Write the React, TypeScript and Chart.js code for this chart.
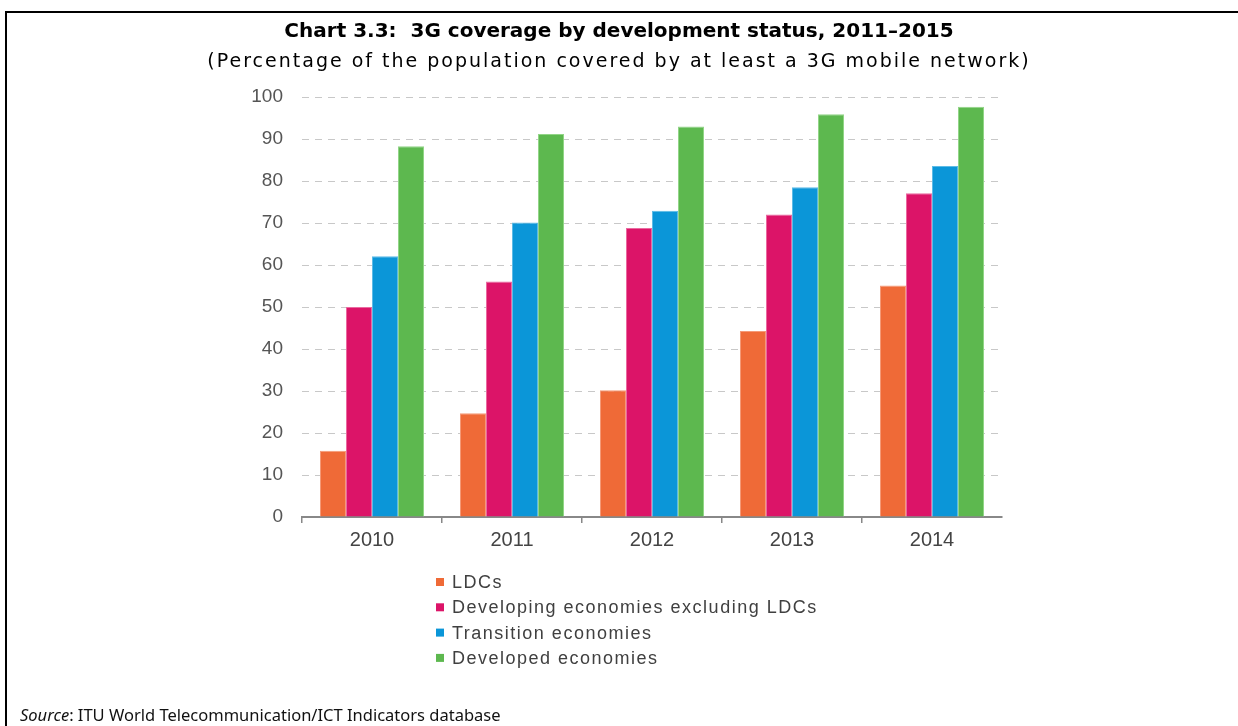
import React, { useEffect, useRef } from "react";
import { Chart, registerables } from "chart.js";

Chart.register(...registerables);

const years = ["2010", "2011", "2012", "2013", "2014"];
const ldcs = [15.8, 24.7, 30.2, 44.3, 55.1];
const developingExLdcs = [50.0, 56.1, 68.8, 72.0, 77.1];
const transitionEconomies = [62.1, 70.1, 72.9, 78.5, 83.6];
const developedEconomies = [88.3, 91.2, 93.0, 95.9, 97.7];
const seriesLabels = [
  "LDCs",
  "Developing economies excluding LDCs",
  "Transition economies",
  "Developed economies",
];
const seriesColors = ["#EF6A37", "#DC1468", "#0B96D8", "#5DB84F"];
const seriesEdges = ["#f59a78", "#ea6aa0", "#5cbbe6", "#92d587"];
const yMin = 0;
const yMax = 100;
const yStep = 10;

const titleText = "Chart 3.3:\u00a0 3G coverage by development status, 2011\u20132015";
const subtitleText = "(Percentage of the population covered by at least a 3G mobile network)";

const listLegend = {
  id: "listLegend",
  afterDraw(chart: any) {
    const ctx = chart.ctx as CanvasRenderingContext2D;
    ctx.save();
    chart.data.datasets.forEach((ds: any, i: number) => {
      const y = 582 + i * 25.3;
      ctx.fillStyle = ds.backgroundColor;
      ctx.fillRect(436, y - 4, 8, 8);
      ctx.font = '18px "Liberation Sans", Arial, sans-serif';
      (ctx as any).letterSpacing = "1.5px";
      ctx.fillStyle = "#404040";
      ctx.textBaseline = "middle";
      ctx.textAlign = "left";
      ctx.fillText(ds.label, 452, y + 1);
    });
    ctx.restore();
  },
};

export default function App() {
  const canvasRef = useRef<HTMLCanvasElement | null>(null);

  useEffect(() => {
    if (!canvasRef.current) return;
    const values = [ldcs, developingExLdcs, transitionEconomies, developedEconomies];
    const chart = new Chart(canvasRef.current, {
      type: "bar",
      data: {
        labels: years,
        datasets: values.map((v, i) => ({
          label: seriesLabels[i],
          data: v,
          backgroundColor: seriesColors[i],
          borderColor: seriesEdges[i],
          borderWidth: 1,
          categoryPercentage: 0.743,
          barPercentage: 1.0,
        })),
      },
      options: {
        animation: false,
        responsive: false,
        maintainAspectRatio: false,
        layout: { padding: { top: 97, left: 0, right: 236, bottom: 169 } },
        plugins: {
          legend: { display: false },
          title: { display: false },
          tooltip: { enabled: false },
        },
        scales: {
          x: {
            afterFit: (s: any) => {
              s.height = 40;
            },
            grid: {
              display: true,
              drawOnChartArea: false,
              drawTicks: true,
              tickLength: 6,
              lineWidth: 1.5,
              color: (c: any) => (c.type === "tick" ? "#888888" : "rgba(0,0,0,0)"),
            },
            border: { display: true, color: "#888888", width: 2 },
            ticks: {
              color: "#444444",
              padding: 5,
              font: { family: '"Liberation Sans", Arial, sans-serif', size: 20 },
            },
          },
          y: {
            min: yMin,
            max: yMax,
            afterFit: (s: any) => {
              s.width = 302;
            },
            grid: {
              color: "#c8c8c8",
              lineWidth: 1,
              drawTicks: false,
            },
            border: { display: false, dash: [7, 6] },
            ticks: {
              stepSize: yStep,
              color: "#555555",
              padding: 19,
              font: { family: '"Liberation Sans", Arial, sans-serif', size: 19 },
            },
          },
        },
      },
      plugins: [listLegend],
    });
    return () => chart.destroy();
  }, []);

  return (
    <div
      style={{
        position: "absolute",
        left: 0,
        top: 0,
        width: 1238,
        height: 726,
        background: "#ffffff",
        overflow: "hidden",
      }}
    >
      <div
        style={{
          position: "absolute",
          left: 5,
          top: 11,
          width: 1233,
          height: 2,
          background: "#000",
        }}
      />
      <div
        style={{
          position: "absolute",
          left: 5,
          top: 11,
          width: 2,
          height: 715,
          background: "#000",
        }}
      />
      <canvas
        ref={canvasRef}
        width={1238}
        height={726}
        style={{ position: "absolute", left: 0, top: 0, width: 1238, height: 726 }}
      />
      <div
        style={{
          position: "absolute",
          left: 0,
          width: 1238,
          top: 18,
          height: 24,
          lineHeight: "24px",
          textAlign: "center",
          fontFamily: '"DejaVu Sans", sans-serif',
          fontWeight: "bold",
          fontSize: 20,
          color: "#000",
          whiteSpace: "pre",
        }}
      >
        {titleText}
      </div>
      <div
        style={{
          position: "absolute",
          left: 0,
          width: 1238,
          top: 48,
          height: 24,
          lineHeight: "24px",
          textAlign: "center",
          fontFamily: '"DejaVu Sans", sans-serif',
          fontSize: 19,
          letterSpacing: "2px",
          color: "#000",
          whiteSpace: "pre",
        }}
      >
        {subtitleText}
      </div>
      <div
        style={{
          position: "absolute",
          left: 20,
          top: 703,
          height: 24,
          lineHeight: "24px",
          fontFamily: '"Noto Sans", "Open Sans", sans-serif',
          fontSize: 16.5,
          color: "#111",
          whiteSpace: "pre",
        }}
      >
        <i>Source</i>: ITU World Telecommunication/ICT Indicators database
      </div>
    </div>
  );
}
